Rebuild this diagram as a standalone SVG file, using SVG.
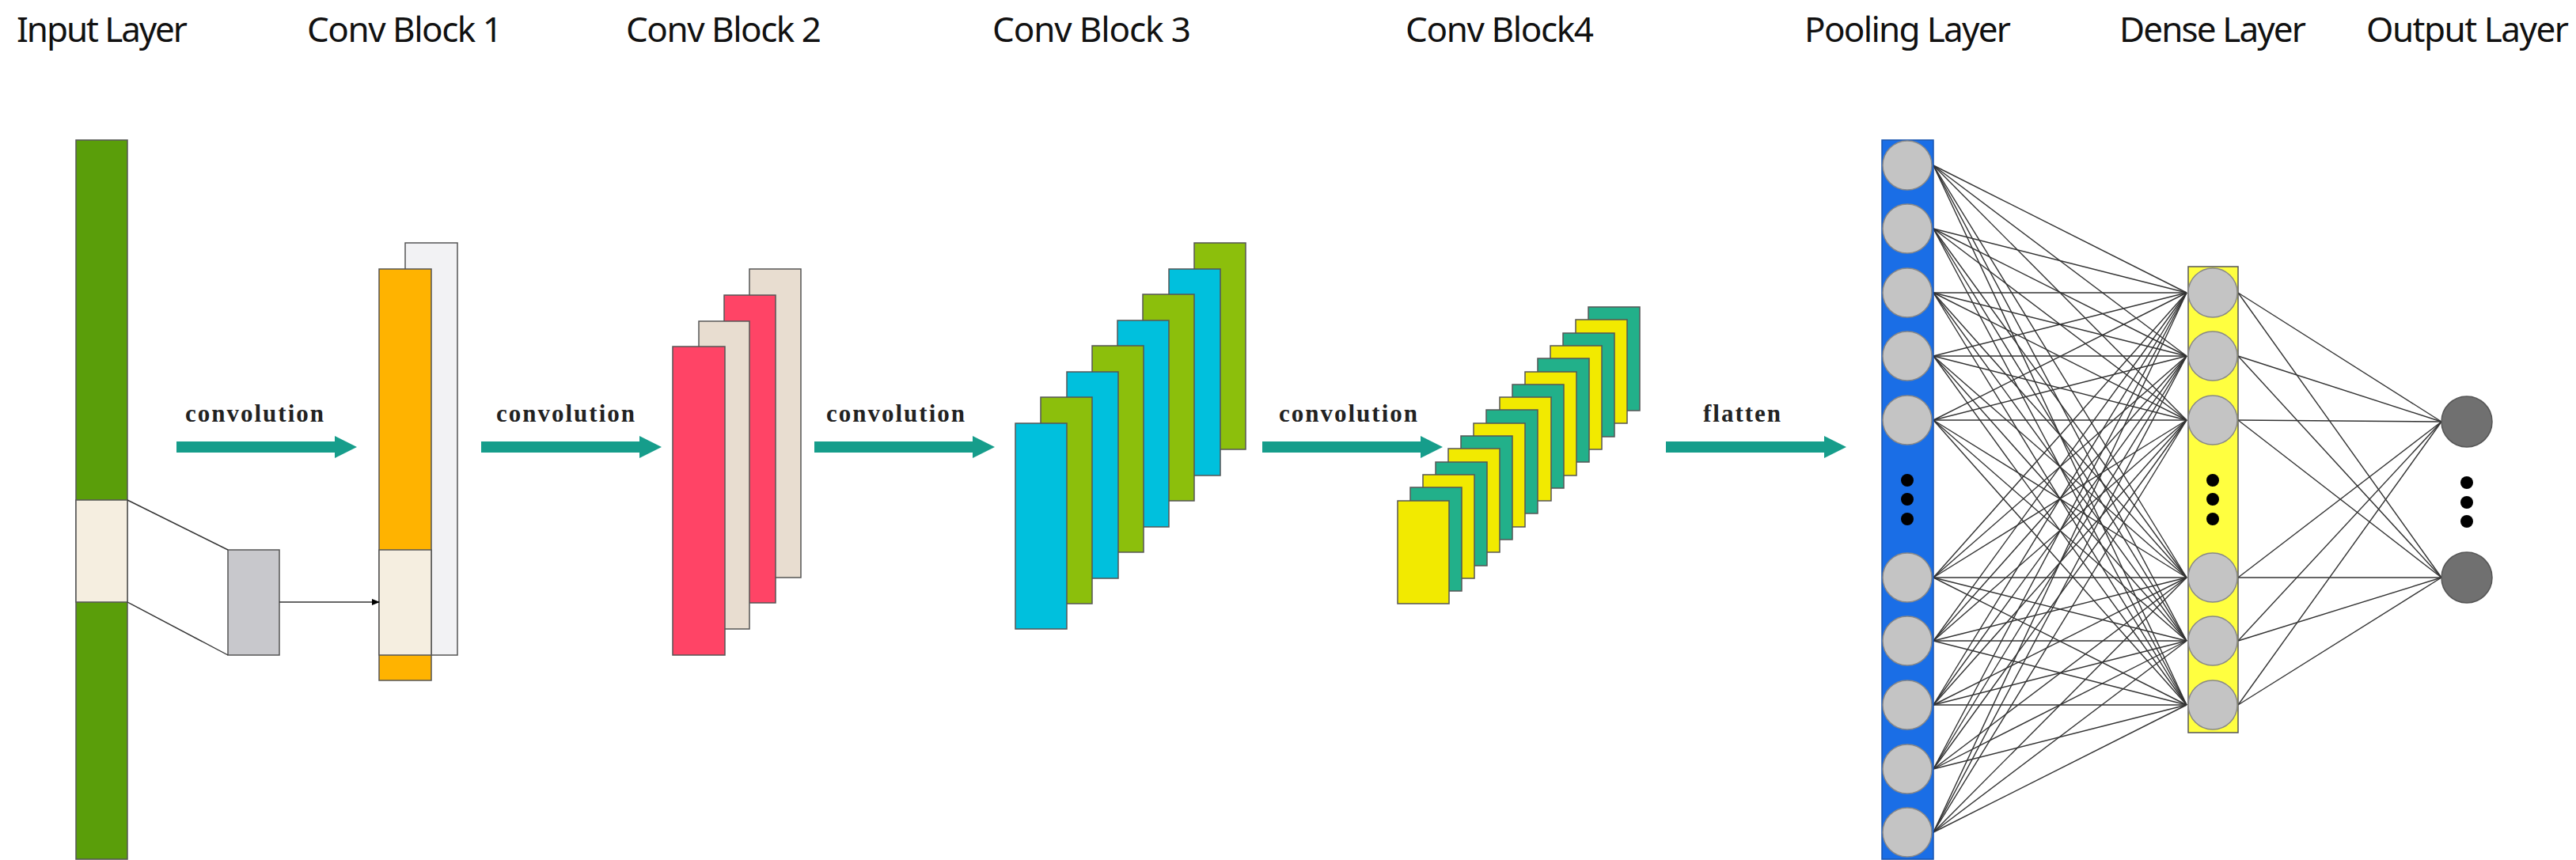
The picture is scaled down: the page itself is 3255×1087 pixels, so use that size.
<svg xmlns="http://www.w3.org/2000/svg" width="3255" height="1087" viewBox="0 0 3255 1087">
<style>
.t{font-family:"Noto Sans","Open Sans",sans-serif;font-size:44px;fill:#111}
.c{font-family:"Liberation Serif",serif;font-size:31px;font-weight:bold;fill:#222}
.r{stroke:#555;stroke-width:1.5}
.n{fill:#c4c4c4;stroke:#888;stroke-width:1.5}
.d{fill:#000}
.ar{fill:#169d8b}
#conn line{stroke:#333;stroke-width:1.4}
</style>
<defs>
<marker id="ah" markerWidth="10" markerHeight="8" refX="9" refY="4" orient="auto" markerUnits="userSpaceOnUse"><path d="M0,0L10,4L0,8z" fill="#000"/></marker>
<path id="arr" d="M0,-7H200V-14L228,0L200,14V7H0z"/>
</defs>
<g id="titles">
<text class="t" x="21" y="53" textLength="216">Input Layer</text>
<text class="t" x="388" y="53" textLength="247">Conv Block 1</text>
<text class="t" x="791" y="53" textLength="247">Conv Block 2</text>
<text class="t" x="1254" y="53" textLength="251">Conv Block 3</text>
<text class="t" x="1776" y="53" textLength="238">Conv Block4</text>
<text class="t" x="2280" y="53" textLength="261">Pooling Layer</text>
<text class="t" x="2678" y="53" textLength="236">Dense Layer</text>
<text class="t" x="2990" y="53" textLength="256">Output Layer</text>
</g>
<g id="input">
<rect class="r" x="96" y="177" width="65" height="909" fill="#5a9e0a"/>
<rect class="r" x="96" y="632" width="65" height="129" fill="#f5eee0"/>
</g>
<g id="kernel">
<rect class="r" x="288" y="695" width="65" height="133" fill="#c8c8cc"/>
</g>
<g id="conv1">
<rect class="r" x="512" y="307" width="66" height="521" fill="#f2f2f4"/>
<rect class="r" x="479" y="340" width="66" height="520" fill="#ffb300"/>
<rect class="r" x="479" y="695" width="66" height="133" fill="#f5eee0"/>
</g>
<g id="conv2">
<rect class="r" x="947" y="340" width="65" height="390" fill="#e8ddd0"/>
<rect class="r" x="915" y="373" width="65" height="389" fill="#ff4466"/>
<rect class="r" x="883" y="406" width="64" height="389" fill="#e8ddd0"/>
<rect class="r" x="850" y="438" width="66" height="390" fill="#ff4466"/>
</g>
<g id="conv3">
<rect class="r" x="1509" y="307" width="65" height="261" fill="#8cbf0c"/>
<rect class="r" x="1477" y="340" width="65" height="261" fill="#00c0dd"/>
<rect class="r" x="1444" y="372" width="65" height="261" fill="#8cbf0c"/>
<rect class="r" x="1412" y="405" width="65" height="261" fill="#00c0dd"/>
<rect class="r" x="1380" y="437" width="65" height="261" fill="#8cbf0c"/>
<rect class="r" x="1348" y="470" width="65" height="261" fill="#00c0dd"/>
<rect class="r" x="1315" y="502" width="65" height="261" fill="#8cbf0c"/>
<rect class="r" x="1283" y="535" width="65" height="260" fill="#00c0dd"/>
</g>
<g id="conv4">
<rect class="r" x="2007" y="388" width="65" height="131" fill="#22b08a"/>
<rect class="r" x="1991" y="404" width="65" height="131" fill="#f2ea00"/>
<rect class="r" x="1975" y="421" width="65" height="131" fill="#22b08a"/>
<rect class="r" x="1959" y="437" width="65" height="131" fill="#f2ea00"/>
<rect class="r" x="1943" y="453" width="65" height="131" fill="#22b08a"/>
<rect class="r" x="1927" y="470" width="65" height="131" fill="#f2ea00"/>
<rect class="r" x="1911" y="486" width="65" height="131" fill="#22b08a"/>
<rect class="r" x="1895" y="502" width="65" height="131" fill="#f2ea00"/>
<rect class="r" x="1878" y="518" width="65" height="131" fill="#22b08a"/>
<rect class="r" x="1862" y="535" width="65" height="131" fill="#f2ea00"/>
<rect class="r" x="1846" y="551" width="65" height="131" fill="#22b08a"/>
<rect class="r" x="1830" y="567" width="65" height="131" fill="#f2ea00"/>
<rect class="r" x="1814" y="584" width="65" height="131" fill="#22b08a"/>
<rect class="r" x="1798" y="600" width="65" height="131" fill="#f2ea00"/>
<rect class="r" x="1782" y="616" width="65" height="131" fill="#22b08a"/>
<rect class="r" x="1766" y="633" width="65" height="130" fill="#f2ea00"/>
</g>
<g id="conn">
<line x1="161" y1="632" x2="288" y2="695"/>
<line x1="161" y1="761" x2="288" y2="828"/>
<line x1="353" y1="761" x2="479" y2="761" marker-end="url(#ah)"/>
<g id="pd">
<line x1="2443" y1="209" x2="2763" y2="370"/><line x1="2443" y1="209" x2="2763" y2="450"/><line x1="2443" y1="209" x2="2763" y2="531"/><line x1="2443" y1="209" x2="2763" y2="730"/><line x1="2443" y1="209" x2="2763" y2="810"/><line x1="2443" y1="209" x2="2763" y2="891"/>
<line x1="2443" y1="289" x2="2763" y2="370"/><line x1="2443" y1="289" x2="2763" y2="450"/><line x1="2443" y1="289" x2="2763" y2="531"/><line x1="2443" y1="289" x2="2763" y2="730"/><line x1="2443" y1="289" x2="2763" y2="810"/><line x1="2443" y1="289" x2="2763" y2="891"/>
<line x1="2443" y1="370" x2="2763" y2="370"/><line x1="2443" y1="370" x2="2763" y2="450"/><line x1="2443" y1="370" x2="2763" y2="531"/><line x1="2443" y1="370" x2="2763" y2="730"/><line x1="2443" y1="370" x2="2763" y2="810"/><line x1="2443" y1="370" x2="2763" y2="891"/>
<line x1="2443" y1="450" x2="2763" y2="370"/><line x1="2443" y1="450" x2="2763" y2="450"/><line x1="2443" y1="450" x2="2763" y2="531"/><line x1="2443" y1="450" x2="2763" y2="730"/><line x1="2443" y1="450" x2="2763" y2="810"/><line x1="2443" y1="450" x2="2763" y2="891"/>
<line x1="2443" y1="531" x2="2763" y2="370"/><line x1="2443" y1="531" x2="2763" y2="450"/><line x1="2443" y1="531" x2="2763" y2="531"/><line x1="2443" y1="531" x2="2763" y2="730"/><line x1="2443" y1="531" x2="2763" y2="810"/><line x1="2443" y1="531" x2="2763" y2="891"/>
<line x1="2443" y1="730" x2="2763" y2="370"/><line x1="2443" y1="730" x2="2763" y2="450"/><line x1="2443" y1="730" x2="2763" y2="531"/><line x1="2443" y1="730" x2="2763" y2="730"/><line x1="2443" y1="730" x2="2763" y2="810"/><line x1="2443" y1="730" x2="2763" y2="891"/>
<line x1="2443" y1="810" x2="2763" y2="370"/><line x1="2443" y1="810" x2="2763" y2="450"/><line x1="2443" y1="810" x2="2763" y2="531"/><line x1="2443" y1="810" x2="2763" y2="730"/><line x1="2443" y1="810" x2="2763" y2="810"/><line x1="2443" y1="810" x2="2763" y2="891"/>
<line x1="2443" y1="891" x2="2763" y2="370"/><line x1="2443" y1="891" x2="2763" y2="450"/><line x1="2443" y1="891" x2="2763" y2="531"/><line x1="2443" y1="891" x2="2763" y2="730"/><line x1="2443" y1="891" x2="2763" y2="810"/><line x1="2443" y1="891" x2="2763" y2="891"/>
<line x1="2443" y1="972" x2="2763" y2="370"/><line x1="2443" y1="972" x2="2763" y2="450"/><line x1="2443" y1="972" x2="2763" y2="531"/><line x1="2443" y1="972" x2="2763" y2="730"/><line x1="2443" y1="972" x2="2763" y2="810"/><line x1="2443" y1="972" x2="2763" y2="891"/>
<line x1="2443" y1="1052" x2="2763" y2="370"/><line x1="2443" y1="1052" x2="2763" y2="450"/><line x1="2443" y1="1052" x2="2763" y2="531"/><line x1="2443" y1="1052" x2="2763" y2="730"/><line x1="2443" y1="1052" x2="2763" y2="810"/><line x1="2443" y1="1052" x2="2763" y2="891"/>
</g>
<g id="do">
<line x1="2828" y1="370" x2="3085" y2="533"/><line x1="2828" y1="370" x2="3085" y2="730"/>
<line x1="2828" y1="450" x2="3085" y2="533"/><line x1="2828" y1="450" x2="3085" y2="730"/>
<line x1="2828" y1="531" x2="3085" y2="533"/><line x1="2828" y1="531" x2="3085" y2="730"/>
<line x1="2828" y1="730" x2="3085" y2="533"/><line x1="2828" y1="730" x2="3085" y2="730"/>
<line x1="2828" y1="810" x2="3085" y2="533"/><line x1="2828" y1="810" x2="3085" y2="730"/>
<line x1="2828" y1="891" x2="3085" y2="533"/><line x1="2828" y1="891" x2="3085" y2="730"/>
</g>
</g>
<g id="arrows">
<use href="#arr" class="ar" x="223" y="565"/>
<use href="#arr" class="ar" x="608" y="565"/>
<use href="#arr" class="ar" x="1029" y="565"/>
<use href="#arr" class="ar" x="1595" y="565"/>
<use href="#arr" class="ar" x="2105" y="565"/>
<text class="c" x="234" y="533" textLength="175">convolution</text>
<text class="c" x="627" y="533" textLength="175">convolution</text>
<text class="c" x="1044" y="533" textLength="175">convolution</text>
<text class="c" x="1616" y="533" textLength="175">convolution</text>
<text class="c" x="2152" y="533" textLength="98">flatten</text>
</g>
<g id="pool">
<rect x="2378" y="177" width="65" height="909" fill="#1a6ee6" stroke="#1a55b0" stroke-width="1.5"/>
<circle class="n" cx="2410" cy="209" r="31"/><circle class="n" cx="2410" cy="289" r="31"/><circle class="n" cx="2410" cy="370" r="31"/><circle class="n" cx="2410" cy="450" r="31"/><circle class="n" cx="2410" cy="531" r="31"/>
<circle class="n" cx="2410" cy="730" r="31"/><circle class="n" cx="2410" cy="810" r="31"/><circle class="n" cx="2410" cy="891" r="31"/><circle class="n" cx="2410" cy="972" r="31"/><circle class="n" cx="2410" cy="1052" r="31"/>
<circle class="d" cx="2410" cy="607" r="8"/><circle class="d" cx="2410" cy="631" r="8"/><circle class="d" cx="2410" cy="656" r="8"/>
</g>
<g id="dense">
<rect x="2765" y="337" width="63" height="589" fill="#ffff40" stroke="#555" stroke-width="1.5"/>
<circle class="n" cx="2796" cy="370" r="31"/><circle class="n" cx="2796" cy="450" r="31"/><circle class="n" cx="2796" cy="531" r="31"/>
<circle class="n" cx="2796" cy="730" r="31"/><circle class="n" cx="2796" cy="810" r="31"/><circle class="n" cx="2796" cy="891" r="31"/>
<circle class="d" cx="2796" cy="607" r="8"/><circle class="d" cx="2796" cy="631" r="8"/><circle class="d" cx="2796" cy="656" r="8"/>
</g>
<g id="output">
<circle cx="3117" cy="533" r="32" fill="#707070" stroke="#555" stroke-width="1.5"/>
<circle cx="3117" cy="730" r="32" fill="#707070" stroke="#555" stroke-width="1.5"/>
<circle class="d" cx="3117" cy="610" r="8"/><circle class="d" cx="3117" cy="635" r="8"/><circle class="d" cx="3117" cy="659" r="8"/>
</g>
</svg>
